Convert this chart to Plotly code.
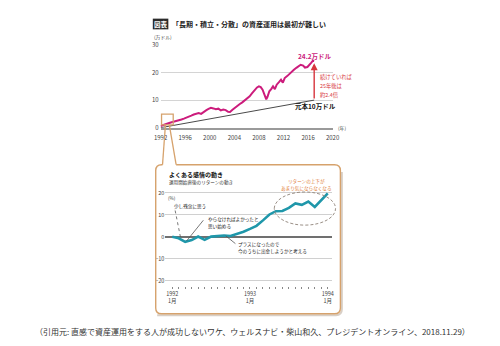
import plotly.graph_objects as go

W, H = 500, 346
FONT = "Noto Sans CJK JP"


def px(x):
    return x / W


def py(y):
    return 1 - y / H


# ---------------- data ----------------
# top chart: value of monthly investing (万ドル)
years = [1992.0, 1992.3, 1992.6, 1993.0, 1993.4, 1993.8, 1994.2, 1994.6, 1995.0, 1995.4,
         1995.8, 1996.2, 1996.6, 1997.0, 1997.4, 1997.8, 1998.2, 1998.6, 1999.0, 1999.4,
         1999.8, 2000.2, 2000.6, 2001.0, 2001.4, 2001.8, 2002.2, 2002.6, 2003.0, 2003.3,
         2003.7, 2004.1, 2004.5, 2004.9, 2005.3, 2005.7, 2006.1, 2006.5, 2006.9, 2007.3,
         2007.7, 2008.0, 2008.3, 2008.6, 2008.9, 2009.2, 2009.4, 2009.7, 2010.0, 2010.3,
         2010.6, 2010.9, 2011.3, 2011.6, 2011.9, 2012.2, 2012.6, 2012.9, 2013.3, 2013.7,
         2014.1, 2014.5, 2014.8, 2015.2, 2015.5, 2015.9, 2016.2, 2016.5, 2016.8, 2017.0]
asset_values = [0.6, 0.9, 1.0, 1.4, 1.7, 2.0, 2.2, 2.4, 2.6, 3.0,
                3.3, 3.6, 3.9, 4.4, 4.8, 5.0, 5.3, 5.0, 5.8, 6.3,
                6.8, 7.2, 7.0, 6.7, 6.9, 6.3, 6.6, 6.4, 5.8, 5.7,
                6.5, 7.3, 7.9, 8.6, 9.2, 9.9, 10.6, 11.4, 12.5, 13.6,
                14.6, 15.0, 14.7, 13.8, 11.6, 10.3, 11.2, 13.2, 14.0, 15.0,
                14.0, 15.6, 16.6, 17.4, 16.3, 18.0, 18.7, 19.4, 20.1, 21.0,
                21.7, 22.3, 22.8, 22.5, 21.8, 22.0, 22.6, 23.5, 24.3, 24.2]
principal_years = [1992, 2017]
principal_values = [0, 10]
top_xticks = [1992, 1996, 2000, 2004, 2008, 2012, 2016, 2020]
top_yticks = [0, 10, 20, 30]

# bottom chart: return (%) month by month, Jan 1992 - Jan 1994
months = list(range(25))
returns = [0.0, -0.7, -2.3, -1.5, 0.1, -1.4, 0.1, 0.3, 0.6, 0.4,
           1.2, 2.3, 3.6, 5.0, 7.5, 10.2, 11.7, 11.8, 13.2, 15.2,
           14.6, 16.1, 13.6, 16.8, 19.8]
month_labels = {0: "1992<br>1月", 12: "1993<br>1月", 24: "1994<br>1月"}
bottom_yticks = [-20, -10, 0, 10, 20]

PINK = "#cc1c7c"
TEAL = "#1f97aa"
RED = "#d7353c"
TAN = "#d6a26c"
ORANGE = "#e07a34"

fig = go.Figure()

fig.add_trace(go.Scatter(x=principal_years, y=principal_values, mode="lines",
                         line=dict(color="#4a4a4a", width=1), xaxis="x", yaxis="y",
                         hoverinfo="skip"))
fig.add_trace(go.Scatter(x=years, y=asset_values, mode="lines",
                         line=dict(color=PINK, width=2), xaxis="x", yaxis="y"))
fig.add_trace(go.Scatter(x=months, y=returns, mode="lines",
                         line=dict(color=TEAL, width=2.6), xaxis="x2", yaxis="y2"))

tickfont = dict(family=FONT, size=6, color="#444")
small = dict(family=FONT, size=5.5, color="#444")

# month axis: 0 at x=170px, 24 at 330px
ppm = 160 / 24
x2_left, x2_right = 163, 334
y2_top_val, y2_bot_val = 21, -22.5
ppu = 90 / 40  # px per %

fig.update_layout(
    width=W, height=H, margin=dict(l=0, r=0, t=0, b=0),
    paper_bgcolor="white", plot_bgcolor="white", showlegend=False,
    font=dict(family=FONT),
    xaxis=dict(domain=[px(158), px(335)], range=[1992, 2020], tickvals=top_xticks,
               tickfont=tickfont, showgrid=False, zeroline=False, showline=True,
               linecolor="#9a9a9a", linewidth=2, ticks="", fixedrange=True,
               ticklabelstandoff=3, anchor="y"),
    yaxis=dict(domain=[py(126), py(41)], range=[0, 30], tickvals=top_yticks,
               tickfont=tickfont, showgrid=True, gridcolor="#d4d4d4", gridwidth=1,
               zeroline=False, showline=False, ticks="", ticklabelstandoff=1,
               anchor="x"),
    xaxis2=dict(domain=[px(x2_left), px(x2_right)],
                range=[-(170 - x2_left) / ppm, 24 + (x2_right - 330) / ppm],
                tickvals=months,
                ticktext=[month_labels.get(m, "") for m in months],
                tickfont=small, showgrid=False, zeroline=False, showline=False,
                ticks="outside", ticklen=2, tickwidth=1, tickcolor="#888",
                anchor="y2"),
    yaxis2=dict(domain=[py(193 + (20 - y2_bot_val) * ppu), py(193 - (y2_top_val - 20) * ppu)],
                range=[y2_bot_val, y2_top_val], tickvals=bottom_yticks,
                tickfont=small, showgrid=True, gridcolor="#d0d0d0", gridwidth=1,
                zeroline=True, zerolinecolor="#707070", zerolinewidth=2,
                showline=False, ticks="", anchor="x2"),
)


def P(x, y):
    return f"{px(x):.5f},{py(y):.5f}"


shapes = []
# title tag box
shapes.append(dict(type="rect", xref="paper", yref="paper", x0=px(150), x1=px(166),
                   y0=py(25), y1=py(14), fillcolor="#2b2b2b", line=dict(width=0)))
# orange zoom box on top chart
shapes.append(dict(type="rect", xref="paper", yref="paper", x0=px(159), x1=px(171),
                   y0=py(123), y1=py(112), line=dict(color=TAN, width=1.3)))
# pointer lines
shapes.append(dict(type="line", xref="paper", yref="paper", x0=px(163), y0=py(123),
                   x1=px(160), y1=py(164), line=dict(color=TAN, width=1.3)))
shapes.append(dict(type="line", xref="paper", yref="paper", x0=px(167), y0=py(123),
                   x1=px(174), y1=py(164), line=dict(color=TAN, width=1.3)))

callout_path = (f"M {P(160,164)} L {P(159,164)} Q {P(153,164)} {P(153,170)} "
                f"L {P(153,311)} Q {P(153,317)} {P(159,317)} L {P(337,317)} "
                f"Q {P(343,317)} {P(343,311)} L {P(343,170)} Q {P(343,164)} {P(337,164)} "
                f"L {P(174,164)}")
shadow_path = (f"M {P(154.5,318.5)} L {P(160.5,318.5)} L {P(338.5,318.5)} "
               f"Q {P(344.5,318.5)} {P(344.5,312.5)} L {P(344.5,171.5)}")
shapes.append(dict(type="path", xref="paper", yref="paper", path=shadow_path,
                   line=dict(color="#d8cfc6", width=2)))
shapes.append(dict(type="path", xref="paper", yref="paper", path=callout_path,
                   line=dict(color=TAN, width=1.4)))
# leader lines in callout
shapes.append(dict(type="line", xref="paper", yref="paper", x0=px(173), y0=py(211),
                   x1=px(179), y1=py(241), line=dict(color="#555", width=0.8, dash="dot")))
shapes.append(dict(type="line", xref="paper", yref="paper", x0=px(202), y0=py(221),
                   x1=px(185), y1=py(242), line=dict(color="#555", width=0.8)))
shapes.append(dict(type="line", xref="paper", yref="paper", x0=px(225), y0=py(237),
                   x1=px(235), y1=py(245), line=dict(color="#555", width=0.8)))
# dashed ellipse (as bezier path)
cx, cy, rx, ry, k = 306.5, 209.0, 31.5, 17.0, 0.5523
ell = (f"M {P(cx - rx, cy)} "
       f"C {P(cx - rx, cy - k * ry)} {P(cx - k * rx, cy - ry)} {P(cx, cy - ry)} "
       f"C {P(cx + k * rx, cy - ry)} {P(cx + rx, cy - k * ry)} {P(cx + rx, cy)} "
       f"C {P(cx + rx, cy + k * ry)} {P(cx + k * rx, cy + ry)} {P(cx, cy + ry)} "
       f"C {P(cx - k * rx, cy + ry)} {P(cx - rx, cy + k * ry)} {P(cx - rx, cy)} Z")
shapes.append(dict(type="path", xref="paper", yref="paper", path=ell,
                   line=dict(color="#9a8f86", width=1, dash="3px,2px")))
fig.update_layout(shapes=shapes)

ann = []


def text(x, y, s, size=6, color="#222", bold=False, xanchor="left"):
    if bold:
        s = f"<b>{s}</b>"
    ann.append(dict(x=px(x), y=py(y), xref="paper", yref="paper", text=s,
                    showarrow=False, xanchor=xanchor, yanchor="middle",
                    font=dict(family=FONT, size=size, color=color)))


text(158, 20, "図表", size=6.5, color="white", bold=True, xanchor="center")
text(168, 20, "「長期・積立・分散」の資産運用は最初が難しい", size=7, bold=True)
text(149, 33, "(万ドル)", size=4.8, color="#444")
text(338, 126, "(年)", size=4.8, color="#444")
text(317, 52, "24.2万ドル", size=6.5, color=PINK, bold=True, xanchor="center")
text(317.5, 104, "元本10万ドル", size=6.5, color="#111", bold=True, xanchor="center")
text(320, 74, "続けていれば", size=5.3, color=RED)
text(320, 83, "25年後は", size=5.3, color=RED)
text(320, 92, "約2.4倍", size=5.3, color=RED)

# red arrow
ann.append(dict(x=2017, y=23.4, xref="x", yref="y", ax=2017, ay=10, axref="x", ayref="y",
                text="", showarrow=True, arrowhead=2, arrowsize=1, arrowwidth=1.4,
                arrowcolor=RED, standoff=0, startstandoff=0))

text(165, 174, "よくある感情の動き", size=6, color="#111", bold=True)
text(165, 182.5, "運用開始直後のリターンの動き", size=4.6, color="#333")
text(164, 198, "(%)", size=4.6, color="#444")
text(170, 207, "少し残念に思う", size=4.6, color="#222")
text(205, 220, "やらなければよかったと", size=4.6, color="#222")
text(205, 227.5, "思い始める", size=4.6, color="#222")
text(236, 246, "プラスになったので", size=4.6, color="#222")
text(236, 253.5, "今のうちに出金しようかと考える", size=4.6, color="#222")
text(308, 181, "リターンの上下が", size=4.6, color=ORANGE, xanchor="center")
text(308, 188, "あまり気にならなくなる", size=4.6, color=ORANGE, xanchor="center")

text(253, 335, "（引用元: 直感で資産運用をする人が成功しないワケ、ウェルスナビ・柴山和久、プレジデントオンライン、2018.11.29）",
     size=8, color="#333", xanchor="center")

fig.update_layout(annotations=ann)

fig.write_html("out.html")
